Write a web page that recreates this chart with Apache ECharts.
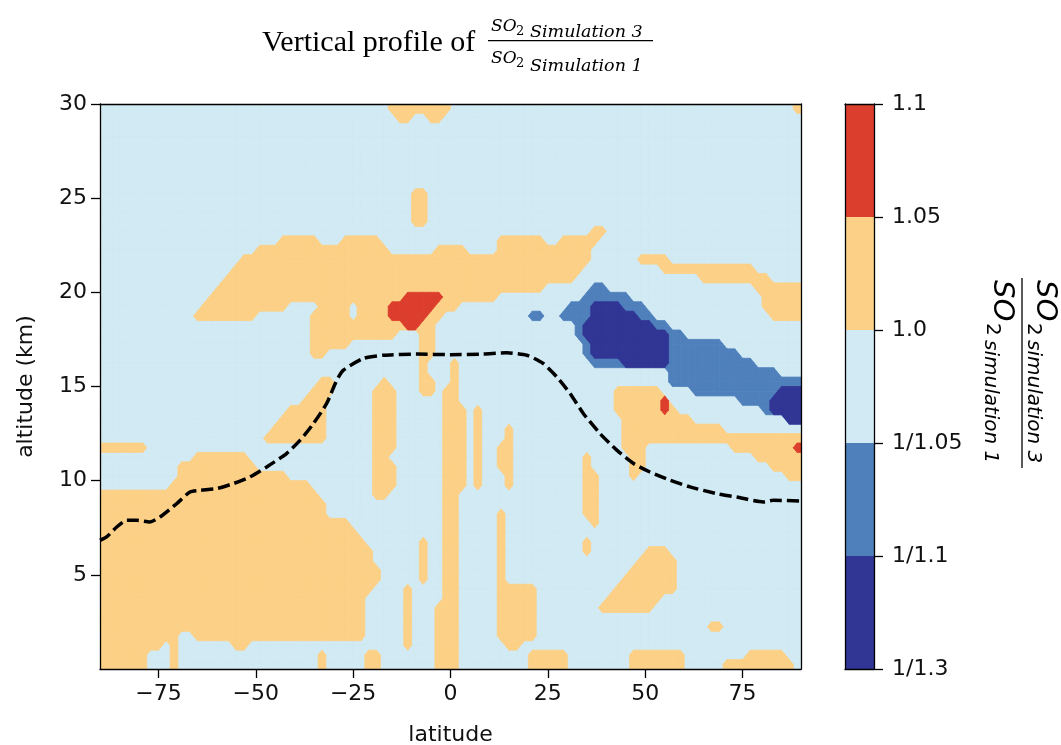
<!DOCTYPE html>
<html><head><meta charset="utf-8">
<script src="https://cdn.jsdelivr.net/npm/echarts@6/dist/echarts.min.js"></script>
<style>html,body{margin:0;padding:0;background:#fff}#c{width:1061px;height:745px}</style>
</head><body><div id="c"></div>
<script>
// ---------------- data ----------------
const latMin = -90, latMax = 90, latStep = 2;      // 90 columns
const altMin = 0, altMax = 30, altStep = 0.5;      // 60 rows (row 0 = top)
const classColors = ['#313695', '#4F80BB', '#D1EAF3', '#FCD086', '#DC3E2D'];
const classCodes = { B: 0, b: 1, '.': 2, o: 3, r: 4 };
const cbTickLabels = ['1/1.3', '1/1.1', '1/1.05', '1.0', '1.05', '1.1'];
const xTicks = [-75, -50, -25, 0, 25, 50, 75];
const yTicks = [5, 10, 15, 20, 25, 30];
const cbTicks = [0, 1, 2, 3, 4, 5];

// tropopause (dashed line)
const tropLat = [-90, -88.3, -85.7, -83.1, -80.6, -77.2, -74.6, -70.3, -66.9, -64.3, -60, -55.7, -51.5, -47.2, -42.1, -38.6, -35.2, -31.8, -29.2, -27.5, -22.4, -17.2, -8.7, 0, 8.4, 14.4, 19.6, 23.8, 27.3, 30.7, 34.1, 38.4, 42.7, 47, 51.2, 56.4, 61.5, 68.4, 73.5, 80.3, 82.9, 90];
const tropAlt = [6.83, 7.01, 7.54, 7.9, 7.9, 7.81, 8.07, 8.78, 9.4, 9.49, 9.58, 9.85, 10.2, 10.73, 11.44, 12.15, 13.03, 14.1, 15.34, 15.87, 16.49, 16.66, 16.72, 16.69, 16.72, 16.79, 16.66, 16.22, 15.51, 14.63, 13.57, 12.5, 11.62, 10.91, 10.46, 10.02, 9.67, 9.31, 9.13, 8.87, 8.96, 8.92];

// ratio class per (altitude row, latitude column); default '.' (1/1.05 - 1.0)
const fieldRows = [
  "o37-44 o89",
  "o38-39 o42-43",
  "", "", "", "", "", "", "",
  "o40-41",
  "o40-41",
  "o40-41",
  "o40-41",
  "o63-64",
  "o23-27 o31-35 o51-56 o59-63",
  "o20-36 o43-46 o51-62",
  "o18-62 o69-72",
  "o17-61 o72-83",
  "o16-60 o77-85",
  "o15-56 o84-89 b63-64",
  "o14-50 r39-43 o85-89 b62-67",
  "o13-23 o28-31 o33-45 r37-42 o85-89 b60-62 B63-66 b67-69",
  "o12-19 o27-31 o33-43 r37-41 o86-89 b55-56 b59-62 B63-68 b69-70",
  "o27-42 r39-40 b61 B62-70 b71-72",
  "o27-37 o41-42 b61 B62-72 b73-74",
  "o27-31 o41-42 b62 B63-72 b73-79",
  "o27-28 o41-42 b62 B63-72 b73-81",
  "o41 o45 b63-66 B67-72 b73-83",
  "o41 o45 b73-86",
  "o28-29 o36 o41-42 o45 b73-89",
  "o27-29 o35-37 o41-42 o44-45 o66-71 b76-86 B87-89",
  "o26-28 o35-37 o44-45 o66-72 r72 b82-85 B86-89",
  "o24-28 o35-37 o44-46 o48 o66-73 r72 b85 B86-89",
  "o23-28 o35-37 o44-46 o48 o67-75 B88-89",
  "o22-28 o35-37 o44-46 o48 o52 o67-79",
  "o21-28 o35-37 o44-46 o48 o52 o67-89",
  "o0-5 o35-37 o44-46 o48 o51-52 o67-69 o81-89 r89",
  "o12-18 o35-36 o44-46 o48 o51-52 o62 o68-69 o84-89",
  "o10-19 o35-37 o44-46 o48 o51-52 o62 o68-69 o86-89",
  "o10-23 o35-37 o44-46 o48 o52 o62-63 o68 o88-89",
  "o9-26 o35-37 o44-46 o48 o52 o62-63",
  "o0-27 o35-36 o44-45 o62-63",
  "o0-28 o44-45 o62-63",
  "o0-28 o44-45 o51 o62-63",
  "o0-31 o44-45 o51 o63",
  "o0-32 o44-45 o51",
  "o0-33 o41 o44-45 o51 o62",
  "o0-34 o41 o44-45 o51 o62 o70-72",
  "o0-34 o41 o44-45 o51 o69-73",
  "o0-35 o41 o44-45 o51 o68-73",
  "o0-35 o41 o44-45 o51 o67-73",
  "o0-34 o39 o44-45 o51-55 o66-73",
  "o0-33 o39 o44-45 o51-55 o65-71",
  "o0-33 o39 o43-45 o51-55 o64-70",
  "o0-33 o39 o43-45 o51-55",
  "o0-33 o39 o43-45 o51-55 o78-79",
  "o0-9 o12-33 o39 o43-45 o51-55",
  "o0-7 o9 o17-18 o39 o43-45 o52-53",
  "o0-5 o9 o28 o34-35 o43-45 o55-59 o68-74 o83-87",
  "o0-5 o9 o28 o34-35 o43-45 o55-59 o68-74 o80-88"
];

// ---------------- build field ----------------
const NC = Math.round((latMax - latMin) / latStep);
const NR = fieldRows.length;
const grid = fieldRows.map(spec => {
  const row = new Array(NC).fill(classCodes['.']);
  spec.split(/\s+/).filter(Boolean).forEach(tok => {
    const cls = classCodes[tok[0]];
    const parts = tok.slice(1).split('-').map(Number);
    const a = parts[0], b = parts.length > 1 ? parts[1] : parts[0];
    for (let c = a; c <= b; c++) row[c] = cls;
  });
  return row;
});
const latOf = c => latMin + (c + 0.5) * latStep;   // sample point at cell centre
const altOf = r => altMax - (r + 0.5) * altStep;
const gv = (r, c) => grid[Math.max(0, Math.min(NR - 1, r))][Math.max(0, Math.min(NC - 1, c))];

// filled contour bands, drawn in layers (marching squares on the class field)
const layers = [
  { cls: 2, test: v => true },
  { cls: 3, test: v => v >= 3 },
  { cls: 4, test: v => v >= 4 },
  { cls: 1, test: v => v <= 1 },
  { cls: 0, test: v => v <= 0 }
];
const polys = [];
layers.forEach(L => {
  for (let r = -1; r < NR; r++) {
    for (let c = -1; c < NC; c++) {
      const cs = [[r, c], [r, c + 1], [r + 1, c + 1], [r + 1, c]];
      const ins = cs.map(p => L.test(gv(p[0], p[1])));
      if (!ins.some(Boolean)) continue;
      const pts = [];
      for (let k = 0; k < 4; k++) {
        const p = cs[k], q = cs[(k + 1) % 4];
        if (ins[k]) pts.push([latOf(p[1]), altOf(p[0])]);
        if (ins[k] !== ins[(k + 1) % 4]) pts.push([(latOf(p[1]) + latOf(q[1])) / 2, (altOf(p[0]) + altOf(q[0])) / 2]);
      }
      polys.push({ cls: L.cls, pts });
    }
  }
});
const polyData = polys.map((p, i) => [i]);
const cbCells = classColors.map((_, i) => [0, 1, i, i + 1, i]);
const tropData = tropLat.map((v, i) => [v, tropAlt[i]]);

function polyItem(params, api) {
  const p = polys[api.value(0)];
  const col = classColors[p.cls];
  return { type: 'polygon', shape: { points: p.pts.map(pt => api.coord(pt)) },
           style: { fill: col, stroke: col, lineWidth: 0.8 } };
}
function rectItem(params, api) {
  const p0 = api.coord([api.value(0), api.value(3)]);
  const p1 = api.coord([api.value(1), api.value(2)]);
  return { type: 'rect', shape: { x: p0[0], y: p0[1], width: p1[0] - p0[0], height: p1[1] - p0[1] },
           style: { fill: classColors[api.value(4)] } };
}

const txt = { fontFamily: 'DejaVu Sans', fontSize: 22, color: '#111' };
const axLine = { show: true, onZero: false, lineStyle: { color: '#000', width: 1.3 } };
const noTick = { show: false }, noLabel = { show: false }, noSplit = { show: false };
const tick = vals => ({ show: true, customValues: vals, length: 9, lineStyle: { color: '#000', width: 1.3 } });

const chart = echarts.init(document.getElementById('c'));
chart.setOption({
  animation: false,
  backgroundColor: '#fff',
  grid: [
    { left: 100, top: 104, width: 701, height: 565, outerBoundsMode: 'none', containLabel: false },
    { left: 845, top: 104, width: 29, height: 565, outerBoundsMode: 'none', containLabel: false }
  ],
  xAxis: [
    { gridIndex: 0, type: 'value', min: latMin, max: latMax, position: 'bottom', z: 10,
      axisLine: axLine, axisTick: tick(xTicks),
      axisLabel: Object.assign({ customValues: xTicks, margin: 14,
        formatter: v => (v < 0 ? '\u2212' + Math.abs(v) : String(v)) }, txt),
      splitLine: noSplit,
      name: 'latitude', nameLocation: 'middle', nameGap: 55, nameTextStyle: txt },
    { gridIndex: 0, type: 'value', min: latMin, max: latMax, position: 'top', z: 10,
      axisLine: axLine, axisTick: noTick, axisLabel: noLabel, splitLine: noSplit },
    { gridIndex: 1, type: 'value', min: 0, max: 1, position: 'bottom', z: 10,
      axisLine: axLine, axisTick: noTick, axisLabel: noLabel, splitLine: noSplit },
    { gridIndex: 1, type: 'value', min: 0, max: 1, position: 'top', z: 10,
      axisLine: axLine, axisTick: noTick, axisLabel: noLabel, splitLine: noSplit }
  ],
  yAxis: [
    { gridIndex: 0, type: 'value', min: altMin, max: altMax, position: 'left', z: 10,
      axisLine: axLine, axisTick: tick(yTicks),
      axisLabel: Object.assign({ customValues: yTicks, margin: 13 }, txt),
      splitLine: noSplit,
      name: 'altitude (km)', nameLocation: 'middle', nameGap: 63, nameTextStyle: txt },
    { gridIndex: 0, type: 'value', min: altMin, max: altMax, position: 'right', z: 10,
      axisLine: axLine, axisTick: noTick, axisLabel: noLabel, splitLine: noSplit },
    { gridIndex: 1, type: 'value', min: 0, max: 5, position: 'left', z: 10,
      axisLine: axLine, axisTick: noTick, axisLabel: noLabel, splitLine: noSplit },
    { gridIndex: 1, type: 'value', min: 0, max: 5, position: 'right', z: 10,
      axisLine: axLine, axisTick: tick(cbTicks),
      axisLabel: Object.assign({ customValues: cbTicks, margin: 18, formatter: v => cbTickLabels[Math.round(v)] }, txt),
      splitLine: noSplit }
  ],
  series: [
    { type: 'custom', name: 'ratio', xAxisIndex: 0, yAxisIndex: 0, clip: true, z: 1,
      progressive: 0, data: polyData, renderItem: polyItem, silent: true },
    { type: 'line', name: 'tropopause', xAxisIndex: 0, yAxisIndex: 0, data: tropData,
      symbol: 'none', smooth: 0.2, z: 5, clip: true, silent: true,
      lineStyle: { color: '#000', width: 3.5, type: [12, 5] } },
    { type: 'custom', name: 'colorbar', xAxisIndex: 2, yAxisIndex: 2, z: 1, silent: true,
      data: cbCells, encode: { x: [0, 1], y: [2, 3] }, renderItem: rectItem }
  ],
  graphic: [
    { type: 'text', x: 262, y: 43, style: { text: 'Vertical profile of', font: '30px "Liberation Serif"', fill: '#000', verticalAlign: 'middle' } },
    { type: 'text', x: 491, y: 26.5, style: { text: 'SO', font: 'italic 17px "DejaVu Serif"', fill: '#000', verticalAlign: 'middle' } },
    { type: 'text', x: 516, y: 31.5, style: { text: '2', font: '13px "DejaVu Serif"', fill: '#000', verticalAlign: 'middle' } },
    { type: 'text', x: 530, y: 32, style: { text: 'Simulation 3', font: 'italic 17.5px "DejaVu Serif"', fill: '#000', verticalAlign: 'middle' } },
    { type: 'line', shape: { x1: 488, y1: 40.7, x2: 653, y2: 40.7 }, style: { stroke: '#000', lineWidth: 1.2 } },
    { type: 'text', x: 491, y: 58.5, style: { text: 'SO', font: 'italic 17px "DejaVu Serif"', fill: '#000', verticalAlign: 'middle' } },
    { type: 'text', x: 516, y: 63.5, style: { text: '2', font: '13px "DejaVu Serif"', fill: '#000', verticalAlign: 'middle' } },
    { type: 'text', x: 530, y: 66, style: { text: 'Simulation 1', font: 'italic 17.5px "DejaVu Serif"', fill: '#000', verticalAlign: 'middle' } },
    { type: 'group', x: 1022, y: 278, rotation: -Math.PI / 2, children: [
      { type: 'line', shape: { x1: 0, y1: 0, x2: 190, y2: 0 }, style: { stroke: '#000', lineWidth: 1.3 } },
      { type: 'text', x: 2, y: -8, style: { text: 'SO', font: 'italic 29px "DejaVu Sans"', fill: '#000', verticalAlign: 'bottom' } },
      { type: 'text', x: 45, y: -1, style: { text: '2', font: '20px "DejaVu Sans"', fill: '#000', verticalAlign: 'bottom' } },
      { type: 'text', x: 62, y: -1, style: { text: 'simulation 3', font: 'italic 20px "DejaVu Sans"', fill: '#000', verticalAlign: 'bottom' } },
      { type: 'text', x: 2, y: 6, style: { text: 'SO', font: 'italic 29px "DejaVu Sans"', fill: '#000', verticalAlign: 'top' } },
      { type: 'text', x: 45, y: 20, style: { text: '2', font: '20px "DejaVu Sans"', fill: '#000', verticalAlign: 'top' } },
      { type: 'text', x: 62, y: 22, style: { text: 'simulation 1', font: 'italic 20px "DejaVu Sans"', fill: '#000', verticalAlign: 'top' } }
    ] }
  ]
});
</script>
</body></html>
